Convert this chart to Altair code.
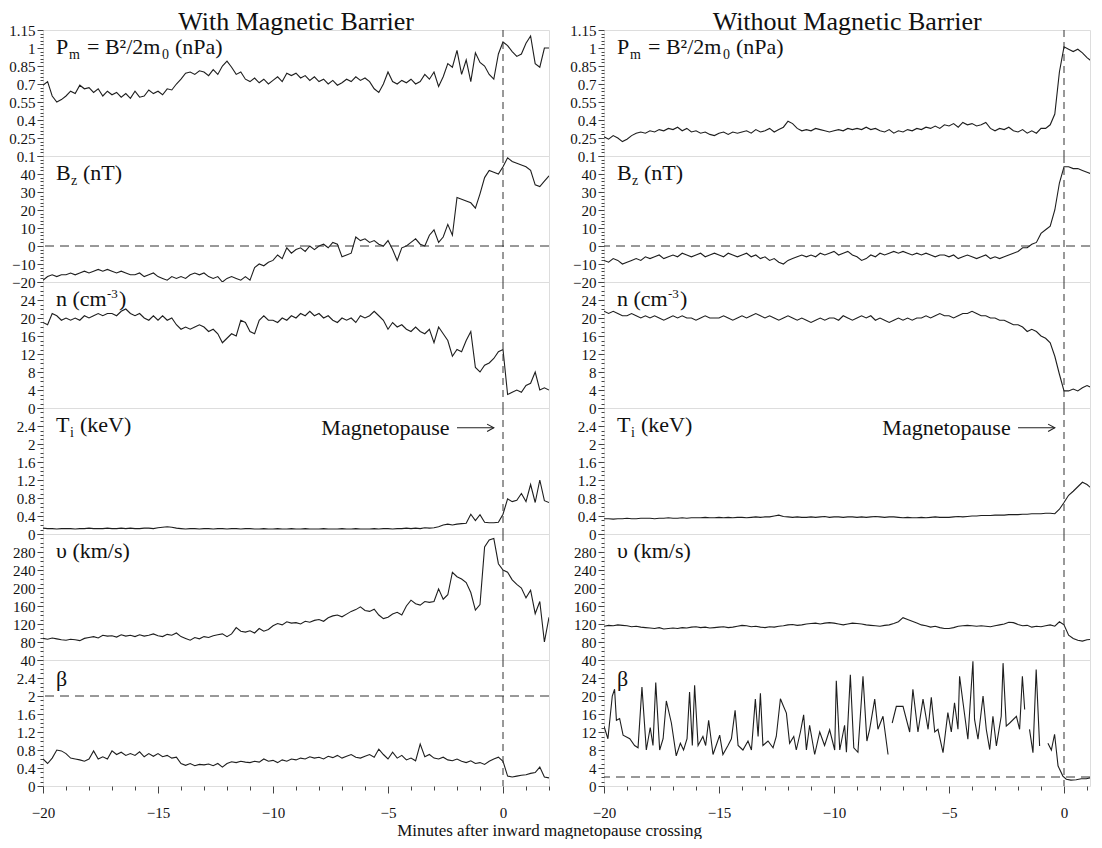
import altair as alt
import pandas as pd

FONT = "Liberation Serif"
INK = "#1e1e1e"

# sample times (minutes after crossing)
t_grid = [round(-20 + 0.2 * i, 1) for i in range(111)]

# ---------------- With magnetic barrier ----------------
pm_left = [0.69, 0.72, 0.60, 0.55, 0.57,
           0.60, 0.64, 0.62, 0.69, 0.66,
           0.67, 0.63, 0.66, 0.60, 0.64,
           0.61, 0.63, 0.59, 0.62, 0.58,
           0.64, 0.59, 0.60, 0.65, 0.62,
           0.64, 0.61, 0.66, 0.65, 0.70,
           0.74, 0.79, 0.80, 0.78, 0.81,
           0.80, 0.77, 0.82, 0.78, 0.85,
           0.89, 0.84, 0.78, 0.80, 0.74,
           0.72, 0.75, 0.71, 0.74, 0.70,
           0.73, 0.76, 0.72, 0.79, 0.77,
           0.79, 0.75, 0.77, 0.73, 0.76,
           0.72, 0.74, 0.70, 0.73, 0.69,
           0.71, 0.74, 0.72, 0.76, 0.73,
           0.75, 0.72, 0.66, 0.63, 0.70,
           0.80, 0.72, 0.70, 0.73, 0.71,
           0.74, 0.70, 0.72, 0.78, 0.74,
           0.80, 0.68, 0.76, 0.87, 0.84,
           0.98, 0.78, 0.90, 0.72, 0.96,
           0.88, 0.85, 0.78, 0.74, 0.95,
           1.05, 1.02, 0.97, 0.93, 0.95,
           1.04, 1.10, 0.87, 0.84, 1.00,
           1.00]

bz_left = [-19, -17, -16, -17, -16,
           -16, -15, -16, -15, -14,
           -15, -14, -13, -14, -13,
           -14, -15, -14, -15, -16,
           -16, -15, -17, -16, -15,
           -17, -18, -19, -17, -18,
           -17, -18, -16, -15, -16,
           -15, -17, -18, -17, -20,
           -18, -17, -18, -19, -17,
           -19, -12, -10, -11, -9,
           -8, -5, -7, -1, -4,
           -2, -1, -3, 0, -2,
           0, 1, -1, 2, 1,
           -6, -5, -4, 5, 3,
           4, 2, 3, 1, 0,
           3, -2, -8, -1, 0,
           2, 4, 1, 0, 6,
           9, 2, 5, 12, 6,
           27, 26, 25, 24, 21,
           29, 38, 42, 41, 40,
           44, 49, 47, 46, 45,
           44, 42, 34, 33, 36,
           39]

n_left = [19, 18.5, 21, 20.5, 19.5,
          20, 19.5, 20, 19.5, 20.5,
          20, 20.5, 21, 20.5, 21,
          21, 20.5, 21.5, 22, 21,
          20.5, 21, 20, 19.5, 20.5,
          19.5, 20.5, 19.5, 20, 18.5,
          17.5, 18, 17.5, 18, 18.5,
          18, 17, 17.5, 16.5, 14.5,
          15.5, 16.5, 16, 19.5, 19,
          17, 16.5, 19.5, 20.5, 19.5,
          19.5, 19, 20, 19.5, 20.5,
          20, 21, 20.5, 21.5, 20.5,
          21, 20, 20.5, 19.5, 19,
          20, 19.5, 20, 19, 20.5,
          20, 20.5, 21.5, 20.5, 19.5,
          17.5, 19, 18, 18.5, 17.5,
          17, 18, 17, 16.5, 17.5,
          14.5, 18, 16.5, 15, 11.5,
          13, 12.5, 15, 17, 9,
          8, 9.5, 10, 11, 12.5,
          13, 3, 3.5, 4, 3.5,
          5, 5.5, 8, 4, 4.5,
          4]

ti_left = [0.13, 0.12, 0.12, 0.11, 0.12,
           0.12, 0.12, 0.11, 0.12, 0.12,
           0.13, 0.12, 0.12, 0.12, 0.13,
           0.12, 0.12, 0.13, 0.12, 0.13,
           0.12, 0.12, 0.13, 0.13, 0.12,
           0.14, 0.15, 0.16, 0.15, 0.13,
           0.12, 0.11, 0.12, 0.12, 0.11,
           0.12, 0.12, 0.11, 0.12, 0.12,
           0.11, 0.12, 0.12, 0.11, 0.12,
           0.12, 0.11, 0.11, 0.12, 0.11,
           0.11, 0.12, 0.11, 0.11, 0.12,
           0.11, 0.11, 0.12, 0.11, 0.11,
           0.11, 0.12, 0.11, 0.11, 0.11,
           0.12, 0.11, 0.11, 0.12, 0.11,
           0.11, 0.11, 0.12, 0.11, 0.12,
           0.12, 0.11, 0.12, 0.12, 0.13,
           0.12, 0.13, 0.12, 0.14, 0.13,
           0.14, 0.16, 0.20, 0.22, 0.20,
           0.22, 0.23, 0.24, 0.44, 0.30,
           0.43, 0.26, 0.25, 0.25, 0.26,
           0.44, 0.78, 0.72, 0.75, 0.90,
           0.72, 1.10, 0.70, 1.20, 0.74,
           0.70]

v_left = [88, 86, 89, 87, 85,
          84, 86, 85, 83, 88,
          90, 92, 89, 95, 93,
          94, 91, 96, 93, 95,
          92, 96, 93, 95, 98,
          94, 92, 97, 95, 100,
          92, 88, 84, 90, 87,
          92, 90, 94, 96, 98,
          92, 98, 112, 104, 102,
          105, 100, 110, 104, 108,
          116, 121, 118, 125, 122,
          123, 120, 126, 124, 128,
          130, 126, 134, 138, 140,
          136, 142, 148, 152, 158,
          150, 148, 153, 140, 132,
          135, 142, 146, 140, 160,
          173, 165, 162, 170, 168,
          170, 198, 175, 185, 235,
          225, 220, 212, 190, 151,
          163, 291, 307, 310, 254,
          240, 235, 218, 208, 200,
          178, 195, 143, 170, 80,
          135]

beta_left = [0.60, 0.50, 0.62, 0.80, 0.78,
             0.72, 0.62, 0.60, 0.58, 0.55,
             0.60, 0.78, 0.60, 0.65, 0.60,
             0.78, 0.70, 0.75, 0.68, 0.72,
             0.68, 0.76, 0.65, 0.72, 0.66,
             0.72, 0.65, 0.68, 0.62, 0.64,
             0.50, 0.46, 0.50, 0.45, 0.48,
             0.47, 0.49, 0.45, 0.50, 0.42,
             0.50, 0.54, 0.52, 0.55, 0.53,
             0.52, 0.55, 0.53, 0.60, 0.55,
             0.57, 0.52, 0.58, 0.55, 0.60,
             0.58, 0.62, 0.60, 0.65, 0.62,
             0.64, 0.60, 0.66, 0.63, 0.68,
             0.62, 0.66, 0.70, 0.64, 0.62,
             0.66, 0.70, 0.64, 0.82, 0.70,
             0.60, 0.75, 0.62, 0.68, 0.58,
             0.62, 0.56, 0.93, 0.65, 0.70,
             0.62, 0.60, 0.64, 0.58, 0.56,
             0.60, 0.55, 0.52, 0.56, 0.50,
             0.52, 0.48, 0.55, 0.60, 0.64,
             0.55, 0.22, 0.20, 0.22, 0.24,
             0.25, 0.28, 0.30, 0.42, 0.20,
             0.18]

# ---------------- Without magnetic barrier ----------------
pm_right = [0.26, 0.24, 0.27, 0.25, 0.22,
            0.24, 0.27, 0.29, 0.30, 0.29,
            0.31, 0.30, 0.32, 0.31, 0.33,
            0.32, 0.34, 0.31, 0.33, 0.30,
            0.31, 0.29, 0.30, 0.28, 0.27,
            0.29, 0.30, 0.28, 0.30, 0.29,
            0.30, 0.31, 0.29, 0.32, 0.30,
            0.31, 0.33, 0.30, 0.32, 0.34,
            0.39, 0.37, 0.33, 0.31, 0.32,
            0.31, 0.33, 0.32, 0.31, 0.30,
            0.31, 0.32, 0.31, 0.33, 0.32,
            0.33, 0.32, 0.34, 0.32, 0.33,
            0.31, 0.30, 0.32, 0.29, 0.31,
            0.30, 0.32, 0.31, 0.33, 0.32,
            0.34, 0.33, 0.35, 0.33, 0.36,
            0.35, 0.37, 0.34, 0.38, 0.36,
            0.37, 0.35, 0.36, 0.38, 0.33,
            0.31, 0.33, 0.32, 0.34, 0.31,
            0.30, 0.32, 0.29, 0.31, 0.29,
            0.33, 0.33, 0.36, 0.45, 0.80,
            1.01, 0.99, 0.97, 0.99, 0.96,
            0.92, 0.89, 0.88, 0.87, 0.88,
            0.88]

bz_right = [-8, -9, -7, -8, -10,
            -9, -8, -7, -8, -6,
            -7, -6, -5, -7, -6,
            -5, -6, -4, -5, -6,
            -5, -4, -6, -5, -4,
            -5, -6, -4, -5, -6,
            -5, -4, -6, -5, -7,
            -6, -8, -7, -9, -10,
            -8, -7, -6, -5, -6,
            -5, -6, -4, -5, -4,
            -3, -5, -4, -3, -5,
            -6, -8, -7, -5, -6,
            -4, -5, -4, -3, -4,
            -3, -4, -5, -4, -5,
            -4, -5, -6, -5, -5,
            -6, -5, -7, -6, -5,
            -6, -7, -6, -5, -7,
            -6, -7, -6, -5, -4,
            -3, -1, -1, 1, 2,
            7, 9, 11, 20, 35,
            44, 44, 43, 43, 42,
            41, 40, 38, 39, 41,
            41]

n_right = [21.5, 21, 21.5, 21, 20.5,
           20.5, 21, 20.5, 20, 20.5,
           20, 20.5, 20, 19.5, 20,
           20.5, 20, 20.5, 20, 20,
           19.5, 20, 20.5, 20, 20,
           20, 20.5, 20, 19.5, 20,
           20.5, 20, 20.5, 21, 20.5,
           20, 20.5, 20, 19.5, 20,
           20.5, 20, 19.5, 20, 19.5,
           19, 19.5, 20, 19.5, 20,
           20, 19.5, 20.5, 20, 19.5,
           20, 20.5, 20, 20.5, 19.5,
           20, 19.5, 19, 19.5, 20,
           19.5, 20, 19.5, 20, 20,
           20.5, 20, 20.5, 21, 20.5,
           20.5, 20, 20.5, 21, 21,
           21.5, 21, 20.5, 20.5, 20,
           20, 19.5, 19.5, 19, 18.5,
           18.5, 18, 17, 17.5, 17,
           16, 15.5, 14.5, 11.5, 7.5,
           3.8, 3.8, 4.2, 3.8, 4.5,
           5, 4.5, 4, 4.5, 4.2,
           4.2]

ti_right = [0.34, 0.34, 0.33, 0.34, 0.34, 0.35, 0.34, 0.34, 0.35, 0.35,
            0.35, 0.34, 0.35, 0.35, 0.36, 0.35, 0.35, 0.36, 0.35, 0.36,
            0.36, 0.36, 0.37, 0.36, 0.36,
            0.37, 0.36, 0.37, 0.36, 0.37, 0.37, 0.36, 0.37, 0.38, 0.37,
            0.38, 0.38, 0.40, 0.42, 0.39, 0.38, 0.37, 0.38, 0.37, 0.37,
            0.38, 0.37, 0.38, 0.39, 0.37,
            0.38, 0.38, 0.37, 0.38, 0.38, 0.37, 0.38, 0.37, 0.38, 0.39,
            0.38, 0.37, 0.38, 0.38, 0.37, 0.36, 0.37, 0.36, 0.36, 0.37,
            0.36, 0.37, 0.38, 0.37, 0.37,
            0.37, 0.38, 0.39, 0.38, 0.39, 0.40, 0.40, 0.41, 0.41, 0.41,
            0.42, 0.42, 0.42, 0.43, 0.43, 0.43, 0.44, 0.44, 0.45, 0.45,
            0.45, 0.46, 0.46, 0.45, 0.55,
            0.70, 0.86, 0.95, 1.05, 1.15, 1.10, 1.01, 1.15, 1.23, 1.24,
            1.24]

v_right = [115, 117, 116, 118, 117,
           116, 114, 115, 113, 112,
           111, 110, 112, 109, 110,
           111, 110, 112, 111, 113,
           114, 112, 113, 111, 112,
           113, 114, 112, 113, 115,
           117, 116, 114, 115, 113,
           112, 114, 113, 115, 116,
           118, 119, 117, 118, 120,
           121, 122, 120, 122, 123,
           122, 120, 118, 120, 122,
           121, 120, 118, 117, 116,
           115, 117, 118, 121, 125,
           134, 130, 126, 122, 118,
           116, 113, 115, 112, 110,
           110, 112, 115, 116, 117,
           116, 115, 116, 115, 114,
           116, 118, 120, 124, 123,
           119, 116, 117, 113, 115,
           114, 116, 118, 115, 125,
           118, 95, 88, 84, 82,
           85, 86, 87, 86, 86,
           86]

# beta without barrier: irregular samples, None marks a data gap
beta_right_t = [-20.0, -19.83, -19.64, -19.54, -19.46, -19.32, -19.17, -18.88, -18.67, -18.52,
                -18.35, -18.16, -17.99, -17.87, -17.75, -17.58, -17.43, -17.29, -17.07, -16.86,
                -16.68, -16.54, -16.39, -16.28, -16.16, -16.06, -15.91, -15.70, -15.58, -15.45,
                -15.26, -15.09, -14.97, -14.83, -14.61, -14.46, -14.30, -14.17, -13.96, -13.74,
                -13.59, -13.42, -13.30, -13.20, -13.09, -12.87, -12.65, -12.51, -12.33, -12.22,
                -12.07, -11.93, -11.75, -11.64, -11.46, -11.32, -11.20, -11.06, -10.84, -10.62,
                -10.41, -10.19, -9.97, -9.90, -9.75, -9.54, -9.46, -9.29, -9.14, -8.96,
                -8.74, -8.57, -8.45, -8.23, -8.09, -7.87, -7.65, None,
                -7.47, -7.29, -7.00, -6.71, -6.57, -6.35, -6.13, -5.91, -5.77, -5.62,
                -5.48, -5.26, -5.05, -4.90, -4.76, -4.61, -4.54, -4.39, -4.18, -3.96,
                -3.89, -3.74, -3.52, -3.38, -3.23, -3.09, -2.94, -2.73, -2.65, -2.51,
                -2.36, -2.07, -1.93, -1.81, -1.71, None,
                -1.50, -1.35, -1.21, -1.06, None,
                -0.70, -0.55, -0.41, -0.26, -0.19, -0.05, 0.10, 0.30, 0.53, 0.75,
                0.97, 1.20, 1.40, 1.60, 1.78, 2.0]
beta_right_v = [13.3, 10.5, 20, 21.5, 14.6, 15, 11.3, 10.5, 9, 8.5,
                22, 8, 13, 9, 23, 8, 10.5, 18.9, 14, 6.7,
                9.5, 8, 10.5, 20.9, 9, 22.4, 9, 11, 9, 14.6,
                7, 9.5, 11.3, 7, 9, 10.5, 16.8, 9, 8, 10,
                8, 19.3, 11, 20.6, 9, 10, 8.5, 11, 19.4, 18,
                16.2, 9.5, 11, 8, 12, 15.8, 8, 13.5, 7, 12,
                9, 12.5, 8, 23.4, 8, 13.5, 7.5, 24.7, 8.5, 7.5,
                24.4, 10, 12.6, 19.3, 12.6, 15.5, 7, None,
                14, 17.7, 17.7, 12, 21.5, 12, 19.3, 12.6, 19.7, 12,
                12.6, 7.4, 16.3, 12, 18.5, 12.6, 24.4, 18.5, 10.4, 27.7,
                14.8, 10.4, 20, 12.6, 8.1, 15.5, 8.9, 15.5, 27.3, 13.3,
                14, 15.5, 12.6, 24.4, 17, None,
                12.6, 7.4, 25.9, 8.9, None,
                9.5, 8, 11.5, 4.5, 3.7, 2.2, 1.5, 1.3, 1.4, 1.6,
                1.6, 1.9, 2.0, 1.9, 1.8, 1.9]

column_titles = {"L": "With Magnetic Barrier", "R": "Without Magnetic Barrier"}
x_title = "Minutes after inward magnetopause crossing"


def grid_frame(values):
    return pd.DataFrame({"t": t_grid[:len(values)], "v": values[:len(t_grid)], "seg": 0})


def gap_frame(ts, vs):
    rows, seg = [], 0
    for a, b in zip(ts, vs):
        if a is None or b is None:
            seg += 1
            continue
        rows.append({"t": a, "v": b, "seg": seg})
    return pd.DataFrame(rows)


XDOM = {"L": [-20, 2], "R": [-20, 1.13]}
WID = {"L": 506, "R": 486}
HT = 126

SPECS = {
    "pm": dict(domain=[0.1, 1.15], minor=0.03, major=0.15, top=True),
    "bz": dict(domain=[-20, 50], minor=2, major=10, top=False),
    "n": dict(domain=[0, 28], minor=1, major=4, top=False),
    "ti": dict(domain=[0, 2.8], minor=0.1, major=0.4, top=False),
    "v": dict(domain=[40, 320], minor=10, major=40, top=False),
    "bl": dict(domain=[0, 2.8], minor=0.1, major=0.4, top=False),
    "br": dict(domain=[0, 28], minor=1, major=4, top=False),
}

# (text, x offset px, baseline y px, font size)
LABELS = {
    "pm": [("P", 13, 24, 22), ("m", 26, 29, 14), ("= B²/2m", 44, 24, 22),
           ("0", 119, 29, 14), ("(nPa)", 132, 24, 22)],
    "bz": [("B", 13, 24, 22), ("z", 28, 29, 14), ("(nT)", 40, 24, 22)],
    "n": [("n (cm", 13, 24, 22), ("-3", 64, 16, 13), (")", 76, 24, 22)],
    "ti": [("T", 13, 24, 22), ("i", 27, 29, 14), ("(keV)", 37, 24, 22)],
    "v": [("υ (km/s)", 13, 24, 22)],
    "bl": [("β", 13, 26, 22)],
    "br": [("β", 13, 26, 22)],
}


def y_axis(spec):
    lo, hi = spec["domain"]
    n = int(round((hi - lo) / spec["minor"]))
    vals = [round(lo + k * spec["minor"], 4) for k in range(n + 1)]
    m = int(round((hi - lo) / spec["major"]))
    majors = [round(lo + k * spec["major"], 4) for k in range(m + 1)]
    shown = majors if spec["top"] else majors[:-1]
    arr_s = "[" + ",".join(repr(float(v)) for v in shown) + "]"
    arr_m = "[" + ",".join(repr(float(v)) for v in majors) + "]"
    return alt.Axis(
        values=vals, title=None, domain=False, grid=False, format="~r",
        labelExpr=f"indexof({arr_s}, datum.value) >= 0 ? datum.label : ''",
        tickSize={"condition": {"test": f"indexof({arr_m}, datum.value) >= 0", "value": 6}, "value": 3},
        labelFont=FONT, labelFontSize=15, labelColor="#111", labelPadding=2,
        labelOverlap=False, tickColor="#444", tickWidth=1,
    )


def x_axis(col):
    hi = int(XDOM[col][1])
    return alt.Axis(
        values=list(range(-20, hi + 1)), title=None, domain=False, grid=False, format="~r",
        labelExpr="datum.value % 5 === 0 ? datum.label : ''",
        tickSize={"condition": {"test": "datum.value % 5 === 0", "value": 7}, "value": 4},
        labelFont=FONT, labelFontSize=15, labelColor="#111", labelPadding=12,
        labelFlush=False, labelOverlap=False, tickColor="#444",
    )


one = pd.DataFrame({"k": [0]})


def panel(col, key, df, bottom=False, hline=None, magneto=False):
    spec = SPECS[key]
    xs = alt.Scale(domain=XDOM[col], nice=False, zero=False)
    ys = alt.Scale(domain=spec["domain"], nice=False, zero=False)
    xenc = alt.X("t:Q", scale=xs, axis=x_axis(col) if bottom else None)
    yenc = alt.Y("v:Q", scale=ys, axis=y_axis(spec))
    layers = [
        alt.Chart(df).mark_line(color=INK, strokeWidth=1.1, clip=True).encode(
            x=xenc, y=yenc, detail="seg:N"),
        alt.Chart(pd.DataFrame({"t": [0.0]})).mark_rule(
            color="#333", strokeWidth=1, strokeDash=[7, 5]).encode(x=xenc),
    ]
    if hline is not None:
        layers.append(alt.Chart(pd.DataFrame({"v": [hline]})).mark_rule(
            color="#333", strokeWidth=1, strokeDash=[9, 6]).encode(y=yenc))
    for txt, dx, dy, fs in LABELS[key]:
        layers.append(alt.Chart(one).mark_text(
            text=txt, font=FONT, fontSize=fs, align="left", baseline="alphabetic",
            color="#111").encode(x=alt.value(dx), y=alt.value(dy)))
    if magneto:
        ann = pd.DataFrame({"t": [-2.0], "t2": [-0.4], "v": [2.36]})
        lab = pd.DataFrame({"t": [-2.32], "v": [2.36]})
        head = pd.DataFrame({"t": [-0.4], "v": [2.36]})
        layers.append(alt.Chart(lab).mark_text(
            text="Magnetopause", font=FONT, fontSize=22, align="right", baseline="middle",
            color="#111").encode(x=xenc, y=yenc))
        layers.append(alt.Chart(ann).mark_rule(color="#222", strokeWidth=1.1).encode(
            x=xenc, x2="t2:Q", y=yenc))
        layers.append(alt.Chart(head).mark_point(
            shape="M-1,-0.55L0,0L-1,0.55", filled=False, size=180, color="#222",
            strokeWidth=1.1, opacity=1).encode(x=xenc, y=yenc))
    return alt.layer(*layers).properties(width=WID[col], height=HT)


def column(col, series, beta_df, beta_key, beta_hline):
    pm, bz, n, ti, v = series
    panels = [
        panel(col, "pm", grid_frame(pm)),
        panel(col, "bz", grid_frame(bz), hline=0),
        panel(col, "n", grid_frame(n)),
        panel(col, "ti", grid_frame(ti), magneto=True),
        panel(col, "v", grid_frame(v)),
        panel(col, beta_key, beta_df, bottom=True, hline=beta_hline),
    ]
    return alt.vconcat(*panels, spacing=0, bounds="flush", title=alt.TitleParams(
        text=column_titles[col], font=FONT, fontSize=26, fontWeight="normal",
        color="#111", anchor="middle", offset=-12, dx=17))


left = column("L", [pm_left, bz_left, n_left, ti_left, v_left],
              grid_frame(beta_left), "bl", 2)
right = column("R", [pm_right, bz_right, n_right, ti_right, v_right],
               gap_frame(beta_right_t, beta_right_v), "br", 2)

chart = alt.hconcat(left, right, spacing=19, title=alt.TitleParams(
    text=x_title, orient="bottom", font=FONT, fontSize=17, fontWeight="normal",
    color="#111", anchor="middle", offset=2)).properties(
    padding={"left": 0, "top": 0, "right": 0, "bottom": 0}
).configure_view(stroke="#555", strokeWidth=1.2).configure(background="white")

chart.save("out.html", embed_options={"renderer": "svg", "actions": False})
